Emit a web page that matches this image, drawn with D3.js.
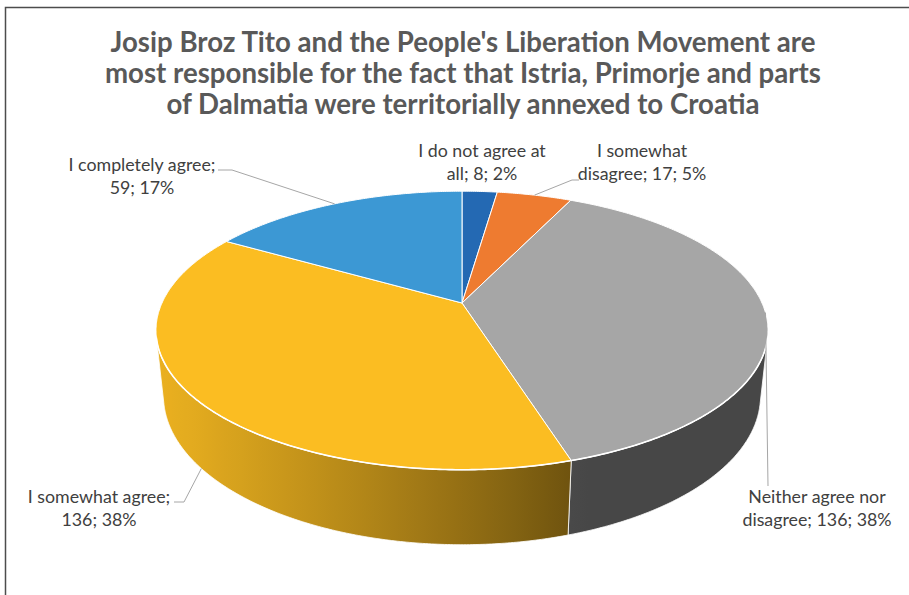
<!DOCTYPE html>
<html>
<head>
<meta charset="utf-8">
<script src="https://cdn.jsdelivr.net/npm/d3@7"></script>
<style>
  html, body { margin: 0; padding: 0; background: #fff; }
  svg { display: block; }
</style>
</head>
<body>
<svg id="chart" width="909" height="595"></svg>
<script>
// ---------- data ----------
const titleLines = [
  "Josip Broz Tito and the People's Liberation Movement are",
  "most responsible for the fact that Istria, Primorje and parts",
  "of Dalmatia were territorially annexed to Croatia"
];
const categories = [
  "I do not agree at all",
  "I somewhat disagree",
  "Neither agree nor disagree",
  "I somewhat agree",
  "I completely agree"
];
const values = [8, 17, 136, 136, 59];
const colors = ["#2469b3", "#ee7b30", "#a6a6a6", "#fbbd22", "#3c98d4"];

// ---------- layout ----------
const W = 909, H = 595;
const cx = 462, cy = 303, Rpx = 300;
const tilt = 26.5 * Math.PI / 180, cosA = Math.cos(tilt), sinA = Math.sin(tilt);
const persp = 4.54;      // camera distance in radii
const thick = 0.246;     // pie thickness in radii

// label layout: words on first line, centre x, first baseline, leader anchor
const labelLayout = [
  { words: 5, x: 482, y: 157, leader: null },
  { words: 2, x: 642, y: 157, leader: { pts: [[579, 180], [572, 180]], level: 0 } },
  { words: 3, x: 817, y: 503, leader: { pts: [[768, 486]], level: 0 } },
  { words: 3, x: 99,  y: 503, leader: { pts: [[174, 502], [184, 502]], level: 1 } },
  { words: 3, x: 142, y: 171, leader: { pts: [[218, 170], [232, 170]], level: 0 } }
];

const svg = d3.select("#chart");

// frame
svg.append("path")
  .attr("d", `M5.5,${H} V7.5 H${W}`)
  .attr("fill", "none").attr("stroke", "#4d4d4d").attr("stroke-width", 1.5);

// projection
function proj(phi, level, r = 1) {
  const X = r * Math.sin(phi), D = -r * Math.cos(phi), Y = -thick * level;
  const u = Y * cosA - D * sinA;
  const w = Y * sinA + D * cosA;
  const sc = 1 / (1 - w / persp);
  return [cx + Rpx * X * sc, cy - Rpx * u * sc];
}
function arcPts(a0, a1, level) {
  const n = Math.max(2, Math.ceil(Math.abs(a1 - a0) / (Math.PI / 360)));
  return d3.range(n + 1).map(i => proj(a0 + (a1 - a0) * i / n, level));
}

const total = d3.sum(values);
const pie = d3.pie().sort(null).value(d => d)(values);
const line = d3.line();

// visible wall range
const visMin = Math.acos(-1 / (persp * cosA));
const visMax = 2 * Math.PI - visMin;

// lighting
const Lx = -0.9, Ld = 0.3, Ln = Math.hypot(Lx, Ld);
function shade(base, phi) {
  const dot = (Math.sin(phi) * Lx + (-Math.cos(phi)) * Ld) / Ln;
  const k = 0.43 + 0.5 * Math.max(0, dot);
  const c = d3.rgb(base);
  return d3.rgb(c.r * k, c.g * k, c.b * k).formatHex();
}

const defs = svg.append("defs");
const gWalls = svg.append("g");
const gTops = svg.append("g");

pie.forEach((s, i) => {
  const a0 = Math.max(s.startAngle, visMin), a1 = Math.min(s.endAngle, visMax);
  if (a1 > a0) {
    const top = arcPts(a0, a1, 0), bot = arcPts(a1, a0, 1);
    const xA = proj(a0, 0)[0], xB = proj(a1, 0)[0];
    const gid = "wall" + i;
    const grad = defs.append("linearGradient").attr("id", gid)
      .attr("gradientUnits", "userSpaceOnUse")
      .attr("x1", xA).attr("y1", 0).attr("x2", xB).attr("y2", 0);
    d3.range(21).forEach(j => {
      const phi = a0 + (a1 - a0) * j / 20;
      const x = proj(phi, 0)[0];
      grad.append("stop").attr("offset", (x - xA) / (xB - xA))
        .attr("stop-color", shade(colors[i], phi));
    });
    gWalls.append("path")
      .attr("d", line(top.concat(bot)) + "Z")
      .attr("fill", `url(#${gid})`)
      .attr("stroke", "#fff").attr("stroke-width", 0.8).attr("stroke-linejoin", "round");
  }
  const pts = [proj(0, 0, 0)].concat(arcPts(s.startAngle, s.endAngle, 0));
  gTops.append("path")
    .attr("d", line(pts) + "Z")
    .attr("fill", colors[i])
    .attr("stroke", "#fff").attr("stroke-width", 1).attr("stroke-linejoin", "round");
});

// rim highlight
svg.append("path")
  .attr("d", line(arcPts(visMin, visMax, 0)))
  .attr("fill", "none").attr("stroke", "#fff").attr("stroke-width", 1.6);

// ---------- title ----------
const title = svg.append("g")
  .attr("font-family", "Lato, 'Open Sans', sans-serif")
  .attr("font-weight", "bold").attr("fill", "#595959").attr("text-anchor", "middle");
const titleY = [52, 83, 114];
const tt = title.selectAll("text").data(titleLines).join("text")
  .attr("x", 463).attr("y", (d, i) => titleY[i]).attr("font-size", 25).text(d => d);
const tw = tt.node().getComputedTextLength();
tt.attr("font-size", 25 * 705 / tw);

// ---------- labels ----------
const gLab = svg.append("g")
  .attr("font-family", "Lato, 'Open Sans', sans-serif")
  .attr("fill", "#404040").attr("text-anchor", "middle");
const labTexts = [];
pie.forEach((s, i) => {
  const L = labelLayout[i];
  const pct = Math.round(values[i] / total * 100);
  const words = `${categories[i]}; ${values[i]}; ${pct}%`.split(" ");
  const lines = [words.slice(0, L.words).join(" "), words.slice(L.words).join(" ")];
  lines.forEach((t, j) => {
    labTexts.push(gLab.append("text").attr("x", L.x).attr("y", L.y + j * 22.5)
      .attr("font-size", 17).text(t));
  });
  if (L.leader) {
    const mid = (s.startAngle + s.endAngle) / 2;
    const pts = L.leader.pts.concat([proj(mid, L.leader.level)]);
    svg.append("path").attr("d", line(pts))
      .attr("fill", "none").attr("stroke", "#a6a6a6").attr("stroke-width", 1);
  }
});
// scale label font so "I completely agree;" is ~147px
const ref = labTexts[8];
const lw = ref.node().getComputedTextLength();
labTexts.forEach(t => t.attr("font-size", 17 * 147 / lw));
</script>
</body>
</html>
